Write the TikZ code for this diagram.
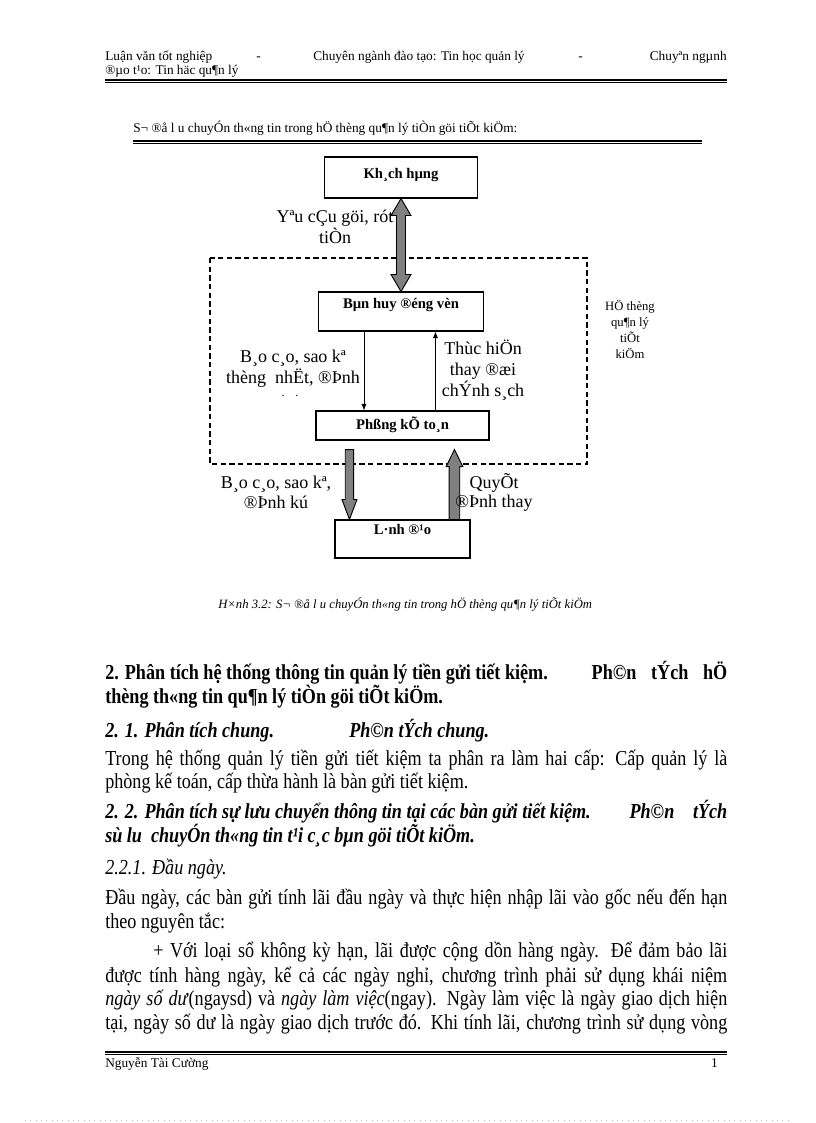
\documentclass[tikz,border=0pt]{standalone}
\usepackage{fontspec}
\setmainfont{Liberation Serif}
\newfontfamily\bodyfont[FakeStretch=0.85]{Liberation Serif}
\usetikzlibrary{calc, arrows.meta}

\newcommand{\bodytext}{\bodyfont\fontsize{16}{19}\selectfont}
\newcommand{\jline}[2][466.5pt]{\makebox[#1][s]{#2}}

\begin{document}
\begin{tikzpicture}[x=0.75pt, y=-0.75pt,
  box/.style={draw, line width=0.8pt, inner sep=0pt, text height=8pt, font=\fontsize{11}{13}\selectfont\bfseries},
  lbl/.style={align=center, inner sep=0pt, font=\fontsize{13.5}{16}\selectfont},
  blk/.style={draw, fill=gray, line width=0.7pt},
  flow/.style={-{Latex[length=5pt, width=4pt]}, line width=0.6pt},
  txt/.style={anchor=base west, inner sep=0pt, font=\bodytext},
  small/.style={anchor=base west, inner sep=0pt, font=\fontsize{10}{12}\selectfont},
  rule/.style={line width=1.4pt}, rulethin/.style={line width=0.5pt}]

\fill[white] (0,0) rectangle (816,1123);
\useasboundingbox (0,0) rectangle (816,1123);

% Header
\node[small] at (105,61) {Luận văn tốt nghiệp};
\node[small] at (256,61) {-};
\node[small] at (313,61) {Chuyên ngành đào tạo: Tin học quản lý};
\node[small] at (578,61) {-};
\node[small, anchor=base east] at (727,61) {Chuyªn ngµnh};
\node[small] at (105,75) {®µo t¹o: Tin häc qu¶n lý};
\draw[rule] (105,80) -- (727,80);
\draw[rulethin] (105,82.5) -- (727,82.5);

% Title of the chart
\node[small] at (133,133) {S¬ ®å l u chuyÓn th«ng tin trong hÖ thèng qu¶n lý tiÒn göi tiÕt kiÖm:};
\draw[rule] (133,141) -- (702,141);
\draw[rulethin] (133,143.5) -- (702,143.5);

% Boxes
\node[box, minimum width=114.75pt, minimum height=30.75pt, text depth=7.2pt] (kh) at (401,177.5) {Kh¸ch hµng};
\node[box, minimum width=123.75pt, minimum height=29.25pt, text depth=11.8pt] (bh) at (401,311.5) {Bµn huy ®éng vèn};
\node[box, minimum width=129.75pt, minimum height=21.75pt, text depth=2.5pt] (pk) at (402.5,425.5) {Phßng kÕ to¸n};
\node[box, minimum width=101.25pt, minimum height=28.5pt, text depth=15.5pt] (ld) at (402.5,539) {L·nh ®¹o};

% Savings system frame
\draw[line width=0.8pt, dash pattern=on 4pt off 2.5pt] (210,258) rectangle (587,464);
\node[align=center, inner sep=0pt, font=\fontsize{9.5}{12}\selectfont] (ht) at (630,329) {HÖ thèng\\qu¶n lý\\tiÕt\\kiÖm};

% Customer <-> deposit desk
\draw[blk] (kh.south) -- ++(10,17) -- ++(-5.5,0) -- ($(bh.north)+(4.5,-17)$) -- ++(5.5,0) -- (bh.north)
  -- ++(-10,-17) -- ++(5.5,0) -- ($(kh.south)+(-4.5,17)$) -- ++(-5.5,0) -- cycle;
\node[lbl] at (335,227) {Yªu cÇu göi, rót\\tiÒn};

% Deposit desk <-> accounting
\coordinate (t1) at ($(bh.south west)+(46,0)$);
\coordinate (t2) at ($(pk.north west)+(120,0)$);
\draw[flow] (t1) -- (t1 |- pk.north);
\draw[flow] (t2) -- (t2 |- bh.south);
\node[lbl] at (293,368.5) {B¸o c¸o, sao kª\\thèng\ \ nhËt, ®Þnh};
\node[anchor=base, inner sep=0pt, font=\fontsize{9}{9}\selectfont] at (290,396) {.\hspace{8pt}.};
\node[lbl] at (483,370) {Thùc hiÖn\\thay ®æi\\chÝnh s¸ch};

% Accounting <-> management
\coordinate (d1) at ($(pk.south west)+(34,9)$);
\coordinate (d2) at (d1 |- ld.north);
\draw[blk] ($(d1)+(-4.2,0)$) -- ($(d1)+(4.2,0)$) -- ($(d2)+(4.2,-20)$) -- ++(3.3,0) -- (d2)
  -- ++(-7.5,-20) -- ++(3.3,0) -- cycle;
\coordinate (u1) at ($(ld.north west)+(120,0)$);
\coordinate (u2) at ($(u1 |- pk.south)+(0,9)$);
\draw[blk] ($(u1)+(-5.3,0)$) -- ($(u1)+(5.3,0)$) -- ($(u2)+(5.3,17)$) -- ++(3,0) -- (u2)
  -- ++(-8.3,17) -- ++(3,0) -- cycle;
\node[lbl] at (276,492.5) {B¸o c¸o, sao kª,\\[-1.5pt]®Þnh kú};
\node[lbl] at (494,492.5) {QuyÕt\\[-1.5pt]®Þnh thay};

% Caption
\node[anchor=base west, inner sep=0pt, font=\fontsize{9.5}{11}\selectfont\itshape] at (218,608) {H×nh 3.2: S¬ ®å l u chuyÓn th«ng tin trong hÖ thèng qu¶n lý tiÕt kiÖm};

% Body text
\node[txt, font=\bodytext\bfseries] at (105,679) {\jline{2. Phân tích hệ thống thông tin quản lý tiền gửi tiết kiệm.\hfill Ph©n\hspace{11pt}tÝch\hspace{11pt}hÖ}};
\node[txt, font=\bodytext\bfseries] at (105,703) {thèng th«ng tin qu¶n lý tiÒn göi tiÕt kiÖm.};
\node[txt, font=\bodytext\bfseries\itshape] at (105,737) {\makebox[183pt][l]{2. 1. Phân tích chung.}Ph©n tÝch chung.};
\node[txt] at (105,765) {\jline{Trong hệ thống quản lý tiền gửi tiết kiệm ta phân ra làm hai cấp: Cấp quản lý là}};
\node[txt] at (105,788) {phòng kế toán, cấp thừa hành là bàn gửi tiết kiệm.};
\node[txt, font=\bodytext\bfseries\itshape] at (105,818) {\jline{2. 2. Phân tích sự lưu chuyển thông tin tại các bàn gửi tiết kiệm.\hfill Ph©n\hspace{14pt}tÝch}};
\node[txt, font=\bodytext\bfseries\itshape] at (105,842) {sù lu\ \ chuyÓn th«ng tin t¹i c¸c bµn göi tiÕt kiÖm.};
\node[txt, font=\bodytext\itshape] at (105,874) {2.2.1. Đầu ngày.};
\node[txt] at (105,904) {\jline{Đầu ngày, các bàn gửi tính lãi đầu ngày và thực hiện nhập lãi vào gốc nếu đến hạn}};
\node[txt] at (105,928) {theo nguyên tắc:};
\node[txt] at (153,957) {\jline[430.5pt]{+ Với loại sổ không kỳ hạn, lãi được cộng dồn hàng ngày. Để đảm bảo lãi}};
\node[txt] at (105,982) {\jline{được tính hàng ngày, kể cả các ngày nghỉ, chương trình phải sử dụng khái niệm}};
\node[txt] at (105,1005) {\jline{\textit{ngày số dư}(ngaysd) và \textit{ngày làm việc}(ngay). Ngày làm việc là ngày giao dịch hiện}};
\node[txt] at (105,1029) {\jline{tại, ngày số dư là ngày giao dịch trước đó. Khi tính lãi, chương trình sử dụng vòng}};

% Footer
\draw[rule] (105,1052) -- (727,1052);
\draw[rulethin] (105,1054.5) -- (727,1054.5);
\node[small] at (105,1067) {Nguyễn Tài Cường};
\node[small, anchor=base east] at (718,1067) {1};
\draw[gray!50, line width=0.6pt, dash pattern=on 0.6pt off 3.4pt] (25,1120) -- (792,1120);
\end{tikzpicture}
\end{document}
